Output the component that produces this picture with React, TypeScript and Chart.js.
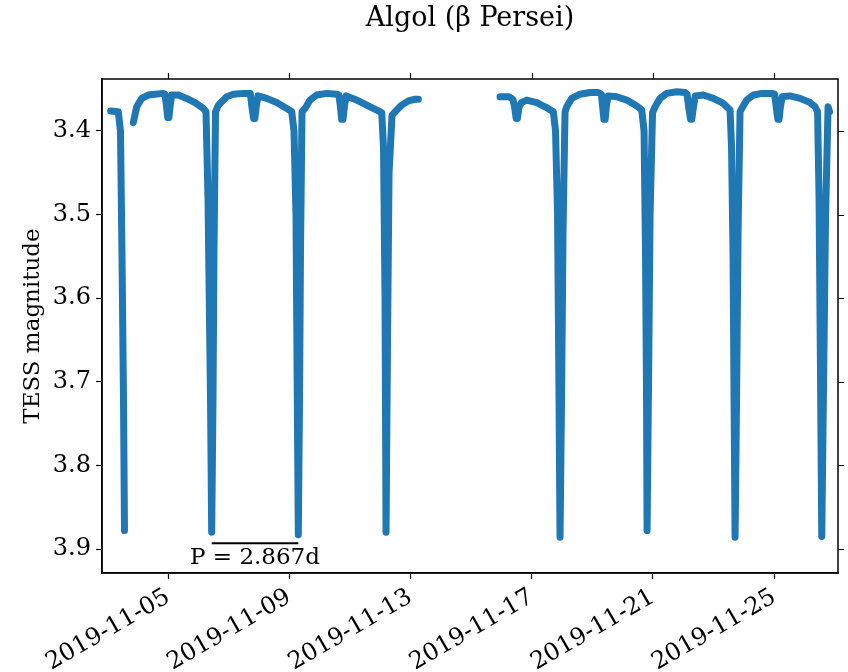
import React, { useEffect, useRef } from 'react';
import { Chart, registerables } from 'chart.js';

Chart.register(...registerables);

const TITLE = 'Algol (β Persei)';
const Y_LABEL = 'TESS magnitude';
const PERIOD_LABEL = 'P = 2.867d';

// x: day of November 2019, y: TESS magnitude
const seg1Days = [3.109, 3.36, 3.432, 3.482, 3.531, 3.564];
const seg1Mags = [3.376, 3.377, 3.4, 3.55, 3.72, 3.878];

const seg2Days = [
  3.855, 3.967, 4.132, 4.35, 4.571, 4.845, 4.9, 4.95, 4.99, 5.03, 5.07, 5.12, 5.34, 5.617, 5.891,
  6.165, 6.254, 6.32, 6.403, 6.442, 6.485, 6.518, 6.568, 6.65, 6.716, 6.937, 7.155, 7.485, 7.715,
  7.765, 7.825, 7.865, 7.915, 7.97, 8.257, 8.587, 8.917, 9.083, 9.158, 9.224, 9.267, 9.3, 9.34, 9.373,
  9.422, 9.521, 9.686, 9.908, 10.238, 10.568, 10.64, 10.69, 10.73, 10.775, 10.82, 10.88, 11.228,
  11.558, 11.888, 12.053, 12.112, 12.162, 12.195, 12.244, 12.294, 12.393, 12.548, 12.713, 12.931,
  13.152, 13.261,
];
const seg2Mags = [
  3.39, 3.371, 3.361, 3.357, 3.356, 3.355, 3.356, 3.37, 3.384, 3.384, 3.37, 3.357, 3.357, 3.361,
  3.366, 3.373, 3.377, 3.48, 3.72, 3.88, 3.72, 3.54, 3.377, 3.37, 3.367, 3.359, 3.356, 3.355, 3.355,
  3.37, 3.385, 3.385, 3.37, 3.358, 3.361, 3.366, 3.373, 3.377, 3.4, 3.5, 3.72, 3.883, 3.72, 3.54,
  3.377, 3.373, 3.363, 3.357, 3.355, 3.356, 3.357, 3.371, 3.386, 3.386, 3.371, 3.358, 3.363,
  3.369, 3.375, 3.378, 3.42, 3.6, 3.88, 3.65, 3.45, 3.381, 3.375, 3.369, 3.364,
  3.362, 3.362,
];

const seg3Days = [
  15.957, 16.231, 16.343, 16.39, 16.44, 16.49, 16.53, 16.58, 16.66, 16.838, 17.168, 17.442,
  17.716, 17.789, 17.855, 17.904, 17.937, 17.987, 18.036, 18.102, 18.158, 18.323, 18.597, 18.927,
  19.201, 19.3, 19.345, 19.385, 19.425, 19.465, 19.52, 19.809, 20.139, 20.469, 20.634, 20.71,
  20.759, 20.792, 20.809, 20.858, 20.908, 20.99, 21.073, 21.238, 21.459, 21.789, 22.063, 22.13,
  22.18, 22.245, 22.285, 22.34, 22.4, 22.667, 22.997, 23.327, 23.548, 23.597, 23.647, 23.68,
  23.713, 23.762, 23.812, 23.878, 23.934, 24.099, 24.317, 24.594, 24.924, 25.02, 25.07, 25.125,
  25.165, 25.21, 25.27, 25.528, 25.858, 26.188, 26.353, 26.436, 26.485, 26.535, 26.574, 26.634,
  26.7, 26.782, 26.832,
];
const seg3Mags = [
  3.359, 3.359, 3.361, 3.363, 3.372, 3.385, 3.385, 3.372, 3.366, 3.363, 3.366, 3.371,
  3.377, 3.4, 3.5, 3.72, 3.886, 3.72, 3.52, 3.377, 3.371, 3.361, 3.356, 3.354,
  3.354, 3.356, 3.371, 3.386, 3.386, 3.371, 3.358, 3.359, 3.363, 3.37, 3.375, 3.4,
  3.55, 3.72, 3.878, 3.7, 3.5, 3.378, 3.371, 3.361, 3.355, 3.353, 3.354, 3.356,
  3.371, 3.386, 3.386, 3.371, 3.358, 3.357, 3.361, 3.367, 3.375, 3.42, 3.55, 3.72,
  3.886, 3.72, 3.52, 3.377, 3.373, 3.363, 3.357, 3.355, 3.355, 3.356, 3.371, 3.386,
  3.386, 3.371, 3.359, 3.358, 3.361, 3.366, 3.371, 3.377, 3.48, 3.7, 3.885, 3.7,
  3.5, 3.371, 3.377,
];

const xTickDays = [5, 9, 13, 17, 21, 25];
const xTickLabels = ['2019-11-05', '2019-11-09', '2019-11-13', '2019-11-17', '2019-11-21', '2019-11-25'];
const yTickValues = [3.4, 3.5, 3.6, 3.7, 3.8, 3.9];
const yTickLabels = ['3.4', '3.5', '3.6', '3.7', '3.8', '3.9'];

const X_MIN = 2.822;
const X_MAX = 27.11;
const Y_MIN = 3.3378;
const Y_MAX = 3.9287;

const periodStart = 6.442;
const periodEnd = 9.3;
const periodBarMag = 3.893;

const BLUE = '#1f77b4';
const FONT = '"DejaVu Serif", serif';

const toPoints = (xs: number[], ys: number[]) => xs.map((x, i) => ({ x, y: ys[i] }));

const decor = {
  id: 'decor',
  afterDraw(chart: any) {
    const { ctx, chartArea: a, scales } = chart;
    const xs = scales.x;
    const ys = scales.y;
    ctx.save();
    ctx.strokeStyle = '#000';
    ctx.lineWidth = 1.5;
    ctx.strokeRect(a.left, a.top, a.right - a.left, a.bottom - a.top);
    ctx.lineWidth = 1.2;
    ctx.beginPath();
    xTickDays.forEach((d) => {
      const px = Math.round(xs.getPixelForValue(d)) + 0.5;
      ctx.moveTo(px, a.top);
      ctx.lineTo(px, a.top - 6);
    });
    yTickValues.forEach((v) => {
      const py = Math.round(ys.getPixelForValue(v)) + 0.5;
      ctx.moveTo(a.right, py);
      ctx.lineTo(a.right + 6, py);
    });
    ctx.stroke();

    ctx.fillStyle = '#000';
    ctx.textAlign = 'center';
    ctx.textBaseline = 'middle';
    ctx.font = `27px ${FONT}`;
    ctx.fillText(TITLE, (a.left + a.right) / 2, 19);

    ctx.save();
    ctx.translate(33, (a.top + a.bottom) / 2);
    ctx.rotate(-Math.PI / 2);
    ctx.font = `23px ${FONT}`;
    ctx.fillText(Y_LABEL, 0, 0);
    ctx.restore();

    const x1 = xs.getPixelForValue(periodStart);
    const x2 = xs.getPixelForValue(periodEnd);
    const py = ys.getPixelForValue(periodBarMag);
    ctx.lineWidth = 2;
    ctx.beginPath();
    ctx.moveTo(x1, py);
    ctx.lineTo(x2, py);
    ctx.stroke();
    ctx.font = `23px ${FONT}`;
    ctx.textBaseline = 'alphabetic';
    ctx.fillText(PERIOD_LABEL, (x1 + x2) / 2, py + 21);
    ctx.restore();
  },
};

export default function App() {
  const ref = useRef<HTMLCanvasElement>(null);
  useEffect(() => {
    if (!ref.current) return;
    const seg = (xs: number[], ys: number[]) => ({
      data: toPoints(xs, ys),
      showLine: true,
      borderColor: BLUE,
      backgroundColor: BLUE,
      borderWidth: 7,
      pointRadius: 0,
      borderCapStyle: 'round',
      borderJoinStyle: 'round',
      tension: 0,
    });
    const chart = new Chart(ref.current, {
      type: 'scatter',
      data: {
        datasets: [seg(seg1Days, seg1Mags), seg(seg2Days, seg2Mags), seg(seg3Days, seg3Mags)] as any,
      },
      options: {
        animation: false,
        responsive: false,
        events: [],
        layout: { padding: { top: 79, right: 10, left: 0, bottom: 0 } },
        plugins: { legend: { display: false }, tooltip: { enabled: false }, title: { display: false } },
        scales: {
          x: {
            type: 'linear',
            min: X_MIN,
            max: X_MAX,
            afterBuildTicks: (s: any) => {
              s.ticks = xTickDays.map((v) => ({ value: v }));
            },
            afterFit: (s: any) => {
              s.height = 99;
            },
            ticks: {
              autoSkip: false,
              minRotation: 30,
              maxRotation: 30,
              padding: 4,
              color: '#000',
              font: { family: FONT, size: 24 },
              callback: (_v: any, i: number) => xTickLabels[i],
            },
            grid: { drawOnChartArea: false, drawTicks: true, tickLength: 6, tickColor: '#000', tickWidth: 1.2 },
            border: { display: true, color: '#000', width: 1.5 },
          },
          y: {
            type: 'linear',
            reverse: true,
            min: Y_MIN,
            max: Y_MAX,
            afterBuildTicks: (s: any) => {
              s.ticks = yTickValues.map((v) => ({ value: v }));
            },
            afterFit: (s: any) => {
              s.width = 102;
            },
            ticks: {
              padding: 5,
              color: '#000',
              font: { family: FONT, size: 24 },
              callback: (_v: any, i: number) => yTickLabels[i],
            },
            grid: { drawOnChartArea: false, drawTicks: true, tickLength: 6, tickColor: '#000', tickWidth: 1.2 },
            border: { display: true, color: '#000', width: 1.5 },
          },
        },
      } as any,
      plugins: [decor],
    });
    return () => chart.destroy();
  }, []);
  return (
    <div style={{ position: 'absolute', left: 0, top: 0, width: 848, height: 672, background: '#fff' }}>
      <canvas ref={ref} width={848} height={672} style={{ display: 'block', width: 848, height: 672 }} />
    </div>
  );
}
